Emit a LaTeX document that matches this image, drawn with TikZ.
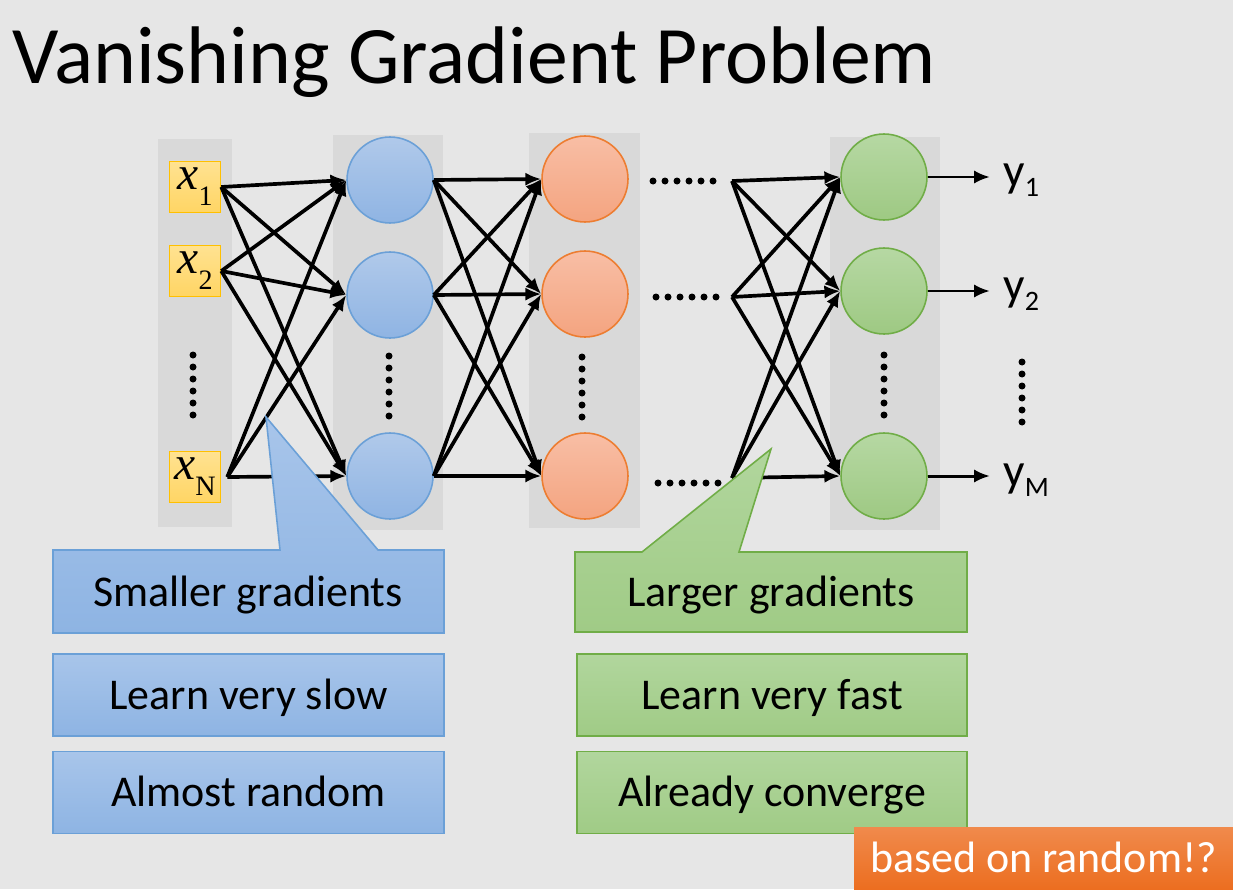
\documentclass[tikz,border=0pt]{standalone}
\usepackage{fontspec}
\setmainfont{Carlito}
\newfontfamily\tmsfont{Liberation Serif}
\usetikzlibrary{arrows.meta}

\definecolor{fond}{RGB}{230,230,230}
\definecolor{colonne}{RGB}{217,217,217}
\definecolor{bleuC}{RGB}{107,160,215}
\definecolor{orangeC}{RGB}{237,125,49}
\definecolor{vertC}{RGB}{112,173,71}
\definecolor{jauneC}{RGB}{255,192,0}

\newcommand{\entree}[1]{{\tmsfont\itshape x}\raisebox{-9pt}{\tmsfont\fontsize{16}{16}\selectfont #1}}
\newcommand{\sortie}[1]{y\raisebox{-6pt}{\fontsize{16}{16}\selectfont #1}}

\tikzset{
  neurone/.style={circle, minimum size=1.72cm, inner sep=0pt, line width=0.9pt},
  bleu/.style={neurone, draw=bleuC, top color={rgb,255:red,176;green,201;blue,234}, bottom color={rgb,255:red,143;green,180;blue,227}},
  orange/.style={neurone, draw=orangeC, top color={rgb,255:red,248;green,190;blue,165}, bottom color={rgb,255:red,244;green,164;blue,128}},
  vert/.style={neurone, draw=vertC, top color={rgb,255:red,182;green,216;blue,163}, bottom color={rgb,255:red,158;green,201;blue,131}},
  entreebox/.style={rectangle, minimum size=1.02cm, inner sep=0pt, line width=0.9pt, draw=jauneC, top color={rgb,255:red,255;green,226;blue,145}, bottom color={rgb,255:red,255;green,213;blue,100}, font=\tmsfont\fontsize{27}{27}\selectfont},
  fleche/.style={-{Latex[length=9pt,width=7.5pt]}, line width=2.1pt},
  texte/.style={font=\fontsize{25}{30}\selectfont, text height=16pt, text depth=0pt},
  boitebleue/.style={texte, rectangle, minimum width=7.82cm, minimum height=1.64cm, draw=bleuC, line width=0.9pt, top color={rgb,255:red,168;green,197;blue,234}, bottom color={rgb,255:red,142;green,180;blue,227}},
  boiteverte/.style={texte, rectangle, minimum width=7.8cm, minimum height=1.64cm, draw=vertC, line width=0.9pt, top color={rgb,255:red,177;green,214;blue,157}, bottom color={rgb,255:red,160;green,203;blue,134}},
  point/.style={fill=black}
}

\begin{document}
\begin{tikzpicture}[x=0.02cm,y=-0.02cm]
% fond et colonnes
\fill[fond] (0,0) rectangle (1233,889);
\useasboundingbox (0,0) rectangle (1233,889);
\fill[colonne] (158,139) rectangle (232,527);
\fill[colonne] (333,135) rectangle (443,530);
\fill[colonne] (529,133) rectangle (640,528);
\fill[colonne] (830,137) rectangle (940,530);

\node[anchor=base west, font=\fontsize{46.5}{50}\selectfont, inner sep=0pt] (titre) at (12,83) {Vanishing Gradient Problem};

% entrees
\node[entreebox] (x1) at (195,187) {\entree{1}};
\node[entreebox] (x2) at (195,271) {\entree{2}};
\node[entreebox] (xn) at (195,477) {\entree{N}};
\coordinate (xno) at ([xshift=0.12cm]xn.east);

% couches
\node[bleu] (a1) at (390,180) {};
\node[bleu] (a2) at (390,295) {};
\node[bleu] (a3) at (390,476) {};
\node[orange] (b1) at (585,179) {};
\node[orange] (b2) at (585,294) {};
\node[orange] (b3) at (585,476) {};
\node[vert] (c1) at (884,177) {};
\node[vert] (c2) at (884,291) {};
\node[vert] (c3) at (884,476) {};
\coordinate (f1) at (732,181);
\coordinate (f2) at (732,297);
\coordinate (f3) at (732,478);

% connexions
\foreach \s in {x1.east,x2.east,xno}
  \foreach \t in {a1,a2,a3}
    \draw[fleche] (\s) -- (\t.west);
\foreach \s in {a1,a2,a3}
  \foreach \t in {b1,b2,b3}
    \draw[fleche] (\s.east) -- (\t.west);
\foreach \s in {f1,f2,f3}
  \foreach \t in {c1,c2,c3}
    \draw[fleche] (\s) -- (\t.west);

% sorties
\node[anchor=base west, font=\fontsize{27}{30}\selectfont, inner sep=0pt] (y1) at (1003,186) {\sortie{1}};
\node[anchor=base west, font=\fontsize{27}{30}\selectfont, inner sep=0pt] (y2) at (1003,300) {\sortie{2}};
\node[anchor=base west, font=\fontsize{27}{30}\selectfont, inner sep=0pt] (ym) at (1003,486) {\sortie{M}};
\draw[fleche, line width=1.7pt] (c1.east) -- ([xshift=-0.26cm]c1.east -| y1.west);
\draw[fleche, line width=1.7pt] (c2.east) -- ([xshift=-0.26cm]c2.east -| y2.west);
\draw[fleche, line width=1.7pt] (c3.east) -- ([xshift=-0.26cm]c3.east -| ym.west);

% points de suspension
\foreach \x/\y in {193/355, 389/356, 582/357, 884/355, 1022/362}
  \foreach \k in {0,...,5}
    \fill[point] (\x,\y+12*\k) circle (0.07cm);
\foreach \x/\y in {653/181, 656/297, 658/483}
  \foreach \k in {0,...,5}
    \fill[point] (\x+12*\k,\y) circle (0.07cm);

% bulles
\draw[bleuC, line width=0.9pt, top color={rgb,255:red,168;green,197;blue,234}, bottom color={rgb,255:red,142;green,180;blue,227}]
  (53,550) -- (280,550) -- (266,417) -- (378,550) -- (444,550) -- (444,633) -- (53,633) -- cycle;
\node[texte] (petit) at (248,592) {Smaller gradients};
\draw[vertC, line width=0.9pt, top color={rgb,255:red,177;green,214;blue,157}, bottom color={rgb,255:red,160;green,203;blue,134}]
  (575,552) -- (642,552) -- (771,449) -- (739,552) -- (967,552) -- (967,632) -- (575,632) -- cycle;
\node[texte] (grand) at (771,592) {Larger gradients};

\node[boitebleue] (lent) at (248.5,695) {Learn very slow};
\node[boitebleue] (hasard) at (248.5,792.5) {Almost random};
\node[boiteverte] (vite) at (772,695) {Learn very fast};
\node[boiteverte] (conv) at (772,792.5) {Already converge};

\node[texte, rectangle, minimum width=7.58cm, minimum height=1.24cm, top color={rgb,255:red,240;green,138;blue,76}, bottom color={rgb,255:red,236;green,110;blue,32}, text=white] (base) at (1043.5,858) {based on random!?};
\end{tikzpicture}
\end{document}
